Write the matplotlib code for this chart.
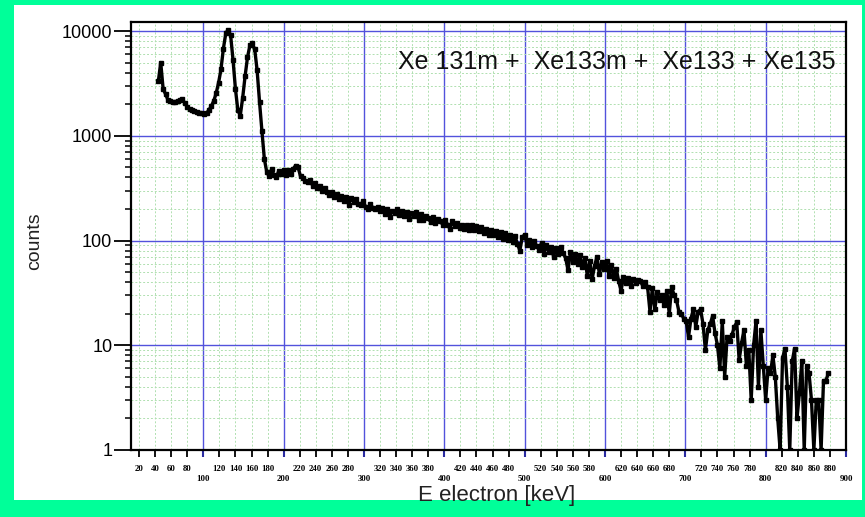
import numpy as np
import matplotlib
matplotlib.use('Agg')
import matplotlib.pyplot as plt
from matplotlib.ticker import LogLocator, NullFormatter
from matplotlib.patches import Rectangle

# ---------------- data ----------------
energy_keV = np.arange(44, 879, 3)  # bin centres, 3 keV steps

counts = [
    3300, 5000, 2800, 2500, 2200, 2130, 2100, 2110, 2150, 2200,   # 44-71
    2220, 2040, 1900, 1800, 1760, 1720, 1690, 1660, 1640, 1630,   # 74-101
    1640, 1760, 1920, 2150, 2550, 3200, 4300, 6800, 9500, 10300,  # 104-131
    9100, 5300, 2800, 1750, 1560, 2300, 3700, 5600, 7300, 7600,   # 134-161
    6700, 4200, 2100, 1100, 600, 450, 410, 480, 420, 400,         # 164-191
    465, 430, 475, 420, 470, 435, 485, 520, 500, 410,             # 194-221
    395, 370, 360, 380, 335, 355, 320, 335, 300, 315,             # 224-251
    290, 270, 290, 258, 275, 250, 265, 240, 258, 220,             # 254-281
    252, 235, 248, 225, 218, 240, 210, 198, 222, 205,             # 284-311
    198, 210, 190, 203, 178, 198, 168, 192, 182, 198,             # 314-341
    175, 192, 170, 188, 160, 182, 172, 188, 158, 178,             # 344-371
    158, 172, 163, 150, 168, 146, 162, 152, 142, 158,             # 374-401
    142, 130, 152, 137, 148, 132, 142, 128, 140, 125,             # 404-431
    142, 127, 137, 122, 134, 117, 130, 114, 127, 112,             # 434-461
    124, 108, 120, 104, 117, 102, 114, 97, 110, 93,               # 464-491
    80, 107, 114, 90, 102, 86, 99, 88, 82, 95,                    # 494-521
    75, 90, 78, 87, 70, 84, 74, 86, 76, 68,                       # 524-551
    52, 77, 63, 74, 60, 72, 56, 68, 46, 64,                       # 554-581
    43, 57, 70, 48, 62, 53, 64, 46, 58, 44,                       # 584-611
    54, 41, 33, 45, 39, 44, 37, 43, 39, 42,                       # 614-641
    41, 37, 40, 36, 21, 35, 22, 32, 27, 30,                       # 644-671
    24, 33, 20, 36, 30, 27, 21, 20, 18, 17,                       # 674-701
    12, 18, 22, 15, 21, 22, 16, 9, 14, 16,                        # 704-731
    19, 13, 10, 6, 17, 5, 12, 11, 12.5, 15,                       # 734-761
    16.5, 7.2, 10.5, 14, 6.4, 9, 3, 10, 17, 4,                    # 764-791
    14, 6.4, 3, 6, 5.4, 8, 5, 2, 1, 7.5,                          # 794-821
    9.3, 4, 1, 7, 9.3, 2, 3.5, 7, 1, 6.4,                         # 824-851
    5.4, 3, 1, 3, 3, 1, 4.6, 4.6, 5.4,                            # 854-878
]

x_major_ticks = [100, 200, 300, 400, 500, 600, 700, 800, 900]
x_major_labels = [str(v) for v in x_major_ticks]
x_minor_ticks = [v for v in range(20, 900, 20) if v % 100 != 0]
x_minor_labels = [str(v) for v in x_minor_ticks]
y_ticks = [1, 10, 100, 1000, 10000]
y_labels = ['1', '10', '100', '1000', '10000']

title_text = 'Xe 131m +  Xe133m +  Xe133 + Xe135'
x_title = 'E electron [keV]'
y_title = 'counts'

# ---------------- figure ----------------
W, H = 865, 517
fig = plt.figure(figsize=(W / 100, H / 100), dpi=100)
fig.patch.set_facecolor('#00FF99')
fig.patches.append(Rectangle((14 / W, 1 - 500 / H), (862 - 14) / W, (500 - 5) / H,
                             transform=fig.transFigure, facecolor='white',
                             edgecolor='none', zorder=-10))

ax = fig.add_axes([131 / W, 1 - 450 / H, (846 - 131) / W, (450 - 22) / H])
ax.set_zorder(5)
ax.set_facecolor('white')

ax.plot(energy_keV, counts, color='black', lw=2.4, marker='s', ms=3.0,
        mec='black', mfc='black', zorder=3)

ax.set_yscale('log')
ax.set_xlim(10, 900)
ax.set_ylim(1, 12190)

# x ticks
ax.set_xticks(x_major_ticks)
ax.set_xticklabels(x_major_labels)
ax.set_xticks(x_minor_ticks, minor=True)
ax.set_xticklabels(x_minor_labels, minor=True)
for lbl in ax.get_xticklabels(which='both'):
    lbl.set_fontfamily('Liberation Serif')
    lbl.set_fontweight('bold')
    lbl.set_fontsize(6.3)
ax.tick_params(axis='x', which='major', direction='out', length=5, width=1.5,
               color='#2a2aa0', pad=13)
ax.tick_params(axis='x', which='minor', direction='out', length=5, width=1.3,
               color='black', pad=5.5)

# y ticks
ax.set_yticks(y_ticks)
ax.set_yticklabels(y_labels)
ax.yaxis.set_minor_locator(LogLocator(base=10, subs=np.arange(2, 10)))
ax.yaxis.set_minor_formatter(NullFormatter())
for lbl in ax.get_yticklabels():
    lbl.set_fontfamily('Liberation Sans')
    lbl.set_fontsize(13)
ax.tick_params(axis='y', which='major', direction='out', length=12, width=1.3,
               pad=1.5)
ax.tick_params(axis='y', which='minor', direction='out', length=4, width=1.1)

# grid
ax.set_axisbelow(True)
ax.grid(which='major', color='#5252dc', lw=1.0)
ax.grid(which='minor', color='#b0e0b0', lw=0.7, ls=(0, (2, 2)))

for s in ax.spines.values():
    s.set_color('black')
    s.set_linewidth(1.6)

ax.text(0.986, 0.907, title_text, transform=ax.transAxes, ha='right',
        va='center', fontsize=18, family='Liberation Sans', color='#111111')

fig.text(497 / W, 1 - 495 / H, x_title, ha='center', va='center',
         fontsize=16, family='Liberation Sans', color='#222222')
fig.text(35 / W, 1 - 241 / H, y_title, ha='center', va='center', rotation=90,
         fontsize=14, family='Liberation Sans', color='#222222')

fig.savefig('out.png', dpi=100, facecolor=fig.get_facecolor())
